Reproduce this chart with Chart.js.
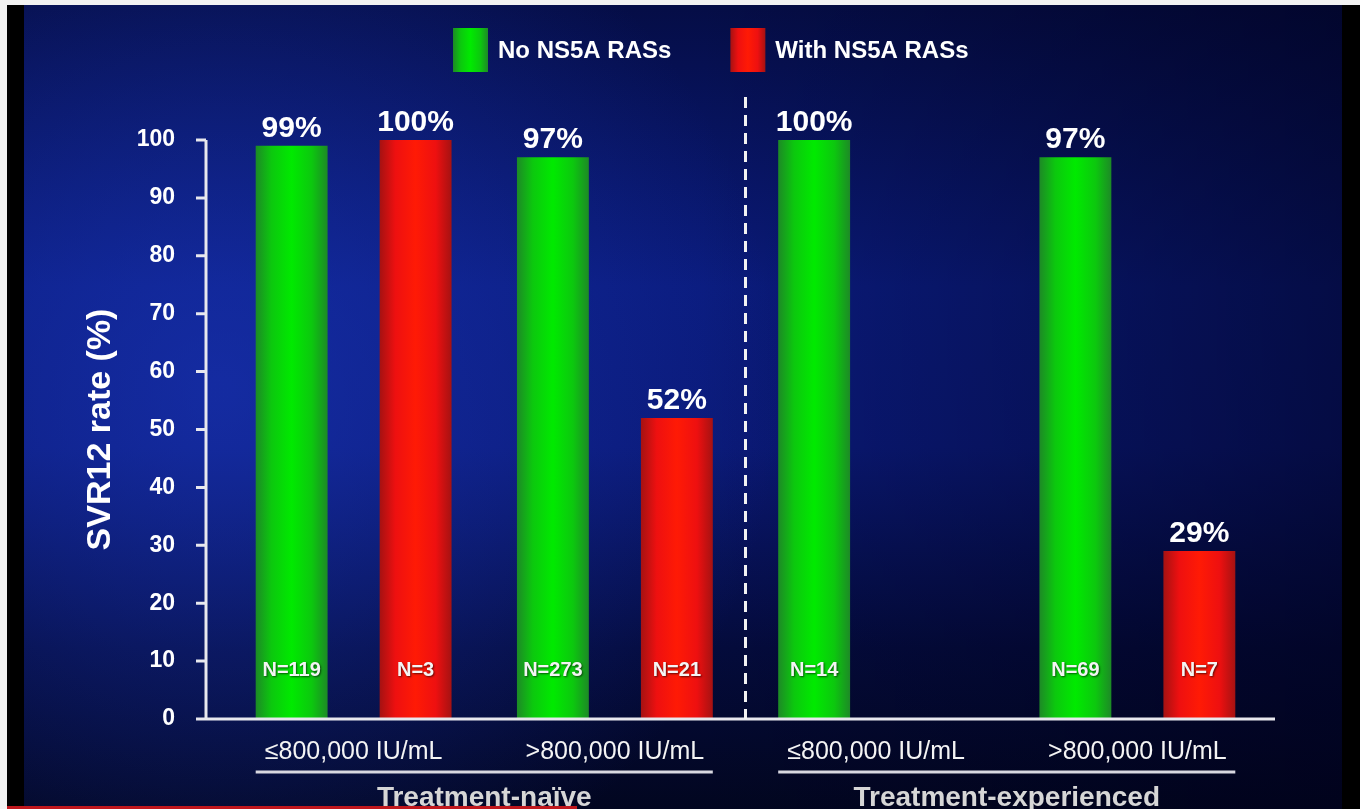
<!DOCTYPE html>
<html>
<head>
<meta charset="utf-8">
<script src="https://cdn.jsdelivr.net/npm/chart.js@4.4.1/dist/chart.umd.min.js"></script>
<style>
  html, body { margin: 0; padding: 0; background: #000; }
  #wrap { width: 1360px; height: 809px; }
</style>
</head>
<body>
<div id="wrap"><canvas id="svr-chart" width="1360" height="809"></canvas></div>
<script>
// chart data
const categories = ["≤800,000 IU/mL", ">800,000 IU/mL", "≤800,000 IU/mL", ">800,000 IU/mL"];
const groups = ["Treatment-naïve", "Treatment-experienced"];
const noRasRates = [99, 97, 100, 97];
const withRasRates = [100, 52, null, 29];
const noRasN = [119, 273, 14, 69];
const withRasN = [3, 21, null, 7];
const yTicks = [0, 10, 20, 30, 40, 50, 60, 70, 80, 90, 100];

const FONT = "'Liberation Sans', Arial, sans-serif";
Chart.defaults.font.family = FONT;

const greenShade = [[0, "#1d8a26"], [0.22, "#0cc80e"], [0.5, "#00ea00"], [0.78, "#0cc80e"], [1, "#1d8a26"]];
const redShade = [[0, "#a51212"], [0.22, "#ee1010"], [0.5, "#ff1a05"], [0.78, "#ee1010"], [1, "#a51212"]];

function shadeFill(ctx, left, right, stops) {
  const g = ctx.createLinearGradient(left, 0, right, 0);
  stops.forEach(([s, c]) => g.addColorStop(s, c));
  return g;
}

// dark blue slide background + per-bar cylinder shading
const backdrop = {
  id: "backdrop",
  beforeDraw(chart) {
    const { ctx, width: w, height: h } = chart;
    ctx.save();
    ctx.fillStyle = "#f2f2f2";
    ctx.fillRect(0, 0, w, h);
    ctx.fillStyle = "#000";
    ctx.fillRect(7, 5, w - 7, h - 5);

    const x0 = 24, x1 = 1342, y0 = 5;
    const v = ctx.createLinearGradient(0, y0, 0, h);
    v.addColorStop(0, "#050d46");
    v.addColorStop(0.35, "#0a1b7c");
    v.addColorStop(0.55, "#0a1976");
    v.addColorStop(0.8, "#040b3c");
    v.addColorStop(1, "#020620");
    ctx.fillStyle = v;
    ctx.fillRect(x0, y0, x1 - x0, h - y0);

    const r = ctx.createRadialGradient(220, 390, 10, 220, 390, 560);
    r.addColorStop(0, "rgba(30,60,200,0.5)");
    r.addColorStop(1, "rgba(30,60,200,0)");
    ctx.fillStyle = r;
    ctx.fillRect(x0, y0, x1 - x0, h - y0);

    const d = ctx.createLinearGradient(700, 0, x1, 0);
    d.addColorStop(0, "rgba(0,0,25,0)");
    d.addColorStop(1, "rgba(0,0,25,0.55)");
    ctx.fillStyle = d;
    ctx.fillRect(x0, y0, x1 - x0, h - y0);

    // player progress strip
    ctx.fillStyle = "#c0171d";
    ctx.fillRect(7, h - 3, 570, 3);
    ctx.restore();
  },
  beforeDatasetsDraw(chart) {
    const ctx = chart.ctx;
    chart.data.datasets.forEach((ds, i) => {
      chart.getDatasetMeta(i).data.forEach((el) => {
        el.options.backgroundColor = shadeFill(ctx, el.x - el.width / 2, el.x + el.width / 2, ds.shade);
      });
    });
  },
};

// axes, divider, labels and legend
const decorations = {
  id: "decorations",
  afterDatasetsDraw(chart) {
    const { ctx, chartArea, scales: { x, y } } = chart;
    const axisX = chartArea.left - 17;
    const base = y.getPixelForValue(0);
    ctx.save();
    ctx.strokeStyle = "#e8e8ee";
    ctx.lineWidth = 3;
    ctx.beginPath();
    ctx.moveTo(axisX, y.getPixelForValue(100));
    ctx.lineTo(axisX, base);
    yTicks.forEach((t) => {
      const py = y.getPixelForValue(t);
      ctx.moveTo(axisX - 10, py);
      ctx.lineTo(axisX, py);
    });
    ctx.moveTo(axisX - 10, base);
    ctx.lineTo(chartArea.right + 7, base);
    ctx.stroke();

    // dashed divider between the two groups
    const divX = (x.getPixelForValue(1) + x.getPixelForValue(2)) / 2;
    ctx.setLineDash([11, 7]);
    ctx.strokeStyle = "#f2f2f2";
    ctx.beginPath();
    ctx.moveTo(divX, 97);
    ctx.lineTo(divX, base);
    ctx.stroke();
    ctx.setLineDash([]);

    // value labels and N labels
    const nSets = [noRasN, withRasN];
    ctx.textAlign = "center";
    chart.data.datasets.forEach((ds, i) => {
      chart.getDatasetMeta(i).data.forEach((el, j) => {
        const val = ds.data[j];
        if (val === null) return;
        ctx.fillStyle = "#ffffff";
        ctx.font = "bold 30px " + FONT;
        ctx.textBaseline = "alphabetic";
        ctx.fillText(val + "%", el.x, el.y - 9);
        ctx.save();
        ctx.shadowColor = "rgba(0,0,0,0.6)";
        ctx.shadowOffsetX = 1;
        ctx.shadowOffsetY = 1;
        ctx.shadowBlur = 2;
        ctx.fillStyle = "#f4f4f4";
        ctx.font = "bold 20px " + FONT;
        ctx.textBaseline = "middle";
        ctx.fillText("N=" + nSets[i][j], el.x, base - 49);
        ctx.restore();
      });
    });

    // group brackets under the category labels
    const m0 = chart.getDatasetMeta(0).data;
    const m1 = chart.getDatasetMeta(1).data;
    groups.forEach((g, gi) => {
      const a = m0[gi * 2], b = m1[gi * 2 + 1];
      const left = a.x - a.width / 2, right = b.x + b.width / 2;
      ctx.strokeStyle = "#d8d8e0";
      ctx.lineWidth = 3;
      ctx.beginPath();
      ctx.moveTo(left, 772);
      ctx.lineTo(right, 772);
      ctx.stroke();
      ctx.fillStyle = "#d6d6d6";
      ctx.font = "bold 28px " + FONT;
      ctx.textBaseline = "alphabetic";
      ctx.fillText(g, (left + right) / 2, 806);
    });

    // legend
    let lx = 453;
    ctx.textAlign = "left";
    ctx.textBaseline = "middle";
    ctx.font = "bold 24px " + FONT;
    chart.data.datasets.forEach((ds) => {
      ctx.fillStyle = shadeFill(ctx, lx, lx + 35, ds.shade);
      ctx.fillRect(lx, 28, 35, 44);
      ctx.fillStyle = "#ffffff";
      ctx.fillText(ds.label, lx + 45, 51);
      lx += 45 + ctx.measureText(ds.label).width + 59;
    });
    ctx.restore();
  },
};

new Chart(document.getElementById("svr-chart"), {
  type: "bar",
  data: {
    labels: categories,
    datasets: [
      // scriptable colour keeps each bar's options object separate so the shading can be set per bar
      { label: "No NS5A RASs", data: noRasRates, shade: greenShade, backgroundColor: () => "#00e000" },
      { label: "With NS5A RASs", data: withRasRates, shade: redShade, backgroundColor: () => "#ff1a05" },
    ],
  },
  options: {
    responsive: false,
    animation: false,
    devicePixelRatio: 1,
    layout: { padding: { top: 140, right: 92, bottom: 0, left: 0 } },
    datasets: { bar: { categoryPercentage: 0.949, barPercentage: 0.58, borderWidth: 0 } },
    plugins: { legend: { display: false }, tooltip: { enabled: false } },
    scales: {
      x: {
        grid: { display: false },
        border: { display: false },
        ticks: { color: "#f4f4f4", font: { size: 25 }, padding: 10, maxRotation: 0, autoSkip: false },
        afterFit: (s) => { s.height = 90; },
      },
      y: {
        min: 0,
        max: 100,
        grid: { display: false },
        border: { display: false },
        ticks: { stepSize: 10, color: "#ffffff", font: { size: 23, weight: "bold" }, padding: 40 },
        title: { display: true, text: "SVR12 rate (%)", color: "#ffffff", font: { size: 34, weight: "bold" }, padding: { top: 80 } },
        afterFit: (s) => { s.width = 223; },
      },
    },
  },
  plugins: [backdrop, decorations],
});
</script>
</body>
</html>
